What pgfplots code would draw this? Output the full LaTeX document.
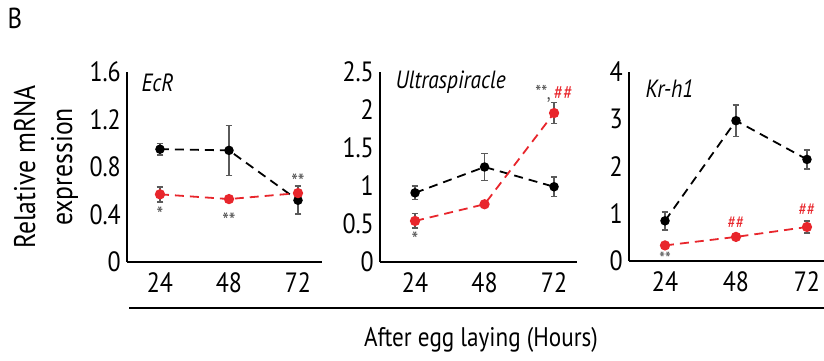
\documentclass[border=0pt]{standalone}
\usepackage{fontspec}
\setmainfont{PT Sans}[FakeStretch=0.86]
\usepackage{pgfplots}
\pgfplotsset{compat=1.18}
\definecolor{myred}{HTML}{E8262C}
\definecolor{errgray}{HTML}{5A5A5A}
\definecolor{stargray}{HTML}{505050}
\pgfplotsset{
  panel/.style={
    scale only axis, width=195bp, height=190bp,
    axis x line*=bottom, axis y line*=left,
    axis line style={-, line width=1.7bp, black},
    major tick length=0pt,
    xtick={0,1,2}, xticklabels={24,48,72},
    ticklabel style={font=\fontsize{28}{28}\selectfont},
    xticklabel style={inner sep=0pt, yshift=-10bp},
    yticklabel style={inner sep=0pt, xshift=-6bp},
    clip=false,
    anchor=south west,
    /pgf/number format/assume math mode=true,
    /pgf/number format/fixed,
  },
  ctrl/.style={black, line width=1.8bp, dash pattern=on 9bp off 6bp,
    mark=*, mark size=3.8bp, mark options={solid, black},
    error bars/.cd, y dir=both, y explicit,
    error bar style={errgray, line width=1.5bp, solid},
    error mark options={rotate=90, errgray, line width=1.5bp, mark size=3.3bp, solid}},
  trt/.style={myred, line width=1.8bp, dash pattern=on 9bp off 6bp,
    mark=*, mark size=4.2bp, mark options={solid, myred},
    error bars/.cd, y dir=both, y explicit,
    error bar style={errgray, line width=1.5bp, solid},
    error mark options={rotate=90, errgray, line width=1.5bp, mark size=3.3bp, solid}},
}
\begin{document}
\begin{tikzpicture}[x=1bp, y=1bp]
\useasboundingbox (0,0) rectangle (824,360);
% Panel 1: EcR
\begin{axis}[panel, at={(127bp,98bp)}, xmin=-0.478, xmax=2.348,
  ymin=0, ymax=1.6, ytick={0,0.4,0.8,1.2,1.6}]
\addplot[ctrl] coordinates {(0,0.95) +- (0,0.05) (1,0.94) +- (0,0.21) (2,0.52) +- (0,0.116)};
\addplot[trt] coordinates {(0,0.57) +- (0,0.063) (1,0.53) +- (0,0.02) (2,0.58) +- (0,0.06)};
\node[stargray, font=\fontsize{22}{22}\selectfont] at (axis cs:0,0.40) {*};
\node[stargray, font=\fontsize{22}{22}\selectfont] at (axis cs:1,0.35) {**};
\node[stargray, font=\fontsize{22}{22}\selectfont] at (axis cs:2,0.68) {**};
\end{axis}
% Panel 2: Ultraspiracle
\begin{axis}[panel, at={(380bp,98bp)}, width=197bp, xmin=-0.504, xmax=2.33,
  ymin=0, ymax=2.5, ytick={0,0.5,1,1.5,2,2.5}]
\addplot[ctrl] coordinates {(0,0.91) +- (0,0.09) (1,1.25) +- (0,0.175) (2,0.99) +- (0,0.13)};
\addplot[trt] coordinates {(0,0.54) +- (0,0.095) (1,0.76) +- (0,0) (2,1.96) +- (0,0.14)};
\node[stargray, font=\fontsize{22}{22}\selectfont] at (axis cs:0,0.29) {*};
\node[font=\fontsize{20}{20}\selectfont] at (axis cs:2.0,2.21) {\textcolor{stargray}{**,}\,\textcolor{myred}{\#\#}};
\end{axis}
% Panel 3: Kr-h1
\begin{axis}[panel, at={(629bp,99bp)}, height=189bp, xmin=-0.507, xmax=2.24,
  ymin=0, ymax=4, ytick={0,1,2,3,4}]
\addplot[ctrl] coordinates {(0,0.85) +- (0,0.19) (1,2.97) +- (0,0.33) (2,2.15) +- (0,0.2)};
\addplot[trt] coordinates {(0,0.33) +- (0,0) (1,0.51) +- (0,0) (2,0.72) +- (0,0.13)};
\node[stargray, font=\fontsize{19}{19}\selectfont, inner sep=0pt, anchor=base] at (axis cs:0,-0.085) {**};
\node[myred, font=\fontsize{18}{18}\selectfont] at (axis cs:1,0.80) {\#\#};
\node[myred, font=\fontsize{18}{18}\selectfont] at (axis cs:2,1.08) {\#\#};
\end{axis}
% gene names
\node[anchor=west, font=\fontsize{25}{25}\selectfont\itshape] at (138,277) {EcR};
\node[anchor=west, font=\fontsize{25}{25}\selectfont\itshape] at (392,278) {Ultraspiracle};
\node[anchor=west, font=\fontsize{25}{25}\selectfont\itshape] at (642,271) {Kr-h1};
% shared x label
\draw[line width=1.7bp] (129,52.3) -- (824,52.3);
\node[font=\fontsize{27}{27}\selectfont] at (481,20) {After egg laying (Hours)};
% y label
\node[rotate=90, align=center, font=\fontsize{30}{37}\selectfont] at (46,193) {Relative mRNA\\expression};
\node[font=\fontsize{29}{29}\selectfont] at (15,342) {B};
\end{tikzpicture}
\end{document}
